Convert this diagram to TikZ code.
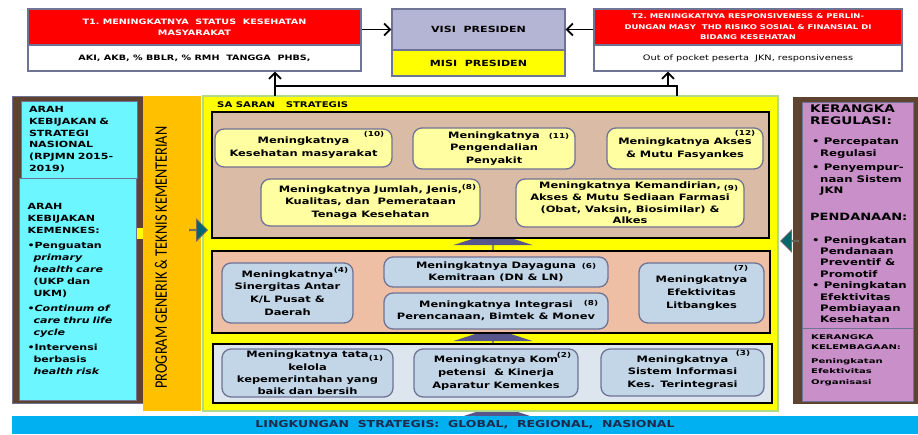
\documentclass[tikz,border=0pt]{standalone}
\usepackage{fontspec}
\setmainfont{DejaVu Sans}[FakeStretch=1.3]
\newfontfamily\widefont{DejaVu Sans}[FakeStretch=1.55]
\newfontfamily\progfont{Carlito}
\usetikzlibrary{arrows.meta,shapes.arrows}

\definecolor{redbox}{HTML}{FF0000}
\definecolor{visibg}{HTML}{B4B4D4}
\definecolor{edge}{HTML}{6F7394}
\definecolor{brownpan}{HTML}{5E4330}
\definecolor{cyanbox}{HTML}{6CF6FF}
\definecolor{orangecol}{HTML}{FFC000}
\definecolor{yelframe}{HTML}{FFFF00}
\definecolor{greenedge}{HTML}{B2D88A}
\definecolor{tanpan}{HTML}{D9BBA6}
\definecolor{salmonpan}{HTML}{EFBFA5}
\definecolor{paleyel}{HTML}{FFFFA2}
\definecolor{paleblue}{HTML}{C2D6E8}
\definecolor{greypan}{HTML}{DDE6EF}
\definecolor{barcyan}{HTML}{00B0F0}
\definecolor{purplepan}{HTML}{C98FC9}
\definecolor{slatearr}{HTML}{56568C}
\definecolor{tealarr}{HTML}{00686A}
\definecolor{navytxt}{HTML}{1C2B4D}

\begin{document}
\begin{tikzpicture}[
    x=1pt,y=-1pt,
    topbox/.style={
        draw=edge,
        line width=1.2pt,
        inner sep=0pt,
        align=center
    },
    panel/.style={
        draw=black,
        line width=2pt,
        inner sep=0pt
    },
    box/.style={
        draw=edge,
        line width=1.3pt,
        rounded corners=9pt,
        inner sep=0pt,
        align=center,
        font=\bfseries\fontsize{8.8}{12.8}\selectfont
    },
    ybox/.style={box,fill=paleyel},
    bbox/.style={box,fill=paleblue},
    num/.style={
        inner sep=0pt,
        font=\bfseries\fontsize{6.8}{8}\selectfont
    },
    sidebox/.style={
        fill=cyanbox,
        draw=edge,
        line width=1pt,
        inner xsep=8pt,
        text width=100pt,
        align=left,
        font=\bfseries\fontsize{8.5}{12}\selectfont
    },
    arrow/.style={-{Straight Barb[length=6pt,width=12pt]},line width=1.8pt},
    uparrow/.style={
        single arrow,
        fill=slatearr,
        inner sep=0pt,
        minimum width=80pt,
        minimum height=24pt,
        single arrow head extend=15pt,
        single arrow tip angle=144,
        rotate=90,
        anchor=tip
    },
    sidearrow/.style={
        single arrow,
        fill=tealarr,
        draw=brownpan!80,
        line width=0.8pt,
        inner sep=0pt,
        minimum width=22pt,
        minimum height=18pt,
        single arrow head extend=6pt,
        anchor=tip
    }
]
\useasboundingbox (0,0) rectangle (918,434);

%------------------------------------------------
% Goals and vision
%------------------------------------------------

\node[topbox,fill=redbox,minimum width=333pt,minimum height=36pt,text=white,
      font=\bfseries\fontsize{7.4}{11}\selectfont] (t1) at (194.5,27)
{T1.~MENINGKATNYA~~STATUS~~KESEHATAN\\MASYARAKAT};
\node[topbox,fill=white,minimum width=333pt,minimum height=26pt,
      font=\bfseries\fontsize{7.4}{9}\selectfont] (t1ind) at (194.5,58)
{AKI, AKB, \% BBLR, \% RMH~~TANGGA~~PHBS,};

\node[topbox,fill=visibg,minimum width=173pt,minimum height=41pt,
      font=\bfseries\fontsize{8.5}{10}\selectfont] (visi) at (478.5,29.5) {VISI~~PRESIDEN};
\node[topbox,fill=yelframe,minimum width=173pt,minimum height=26pt,
      font=\bfseries\fontsize{8.5}{10}\selectfont] (misi) at (478.5,63) {MISI~~PRESIDEN};

\node[topbox,fill=redbox,minimum width=308pt,minimum height=36pt,text=white,
      font=\bfseries\fontsize{6.5}{10.5}\selectfont] (t2) at (748,27)
{T2.~MENINGKATNYA RESPONSIVENESS \& PERLIN-\\DUNGAN MASY~~THD RISIKO SOSIAL \& FINANSIAL DI\\BIDANG KESEHATAN};
\node[topbox,fill=white,minimum width=308pt,minimum height=26pt,
      font=\fontsize{7.5}{9}\selectfont] (t2ind) at (748,58)
{Out of pocket peserta~~JKN, responsiveness};

\draw[arrow] (visi.west -| t1.east) -- (visi.west);
\draw[arrow] (visi.east -| t2.west) -- (visi.east);

%------------------------------------------------
% Frame
%------------------------------------------------

\node[uparrow] (upC) at (497,405) {};

\node[fill=yelframe,draw=greenedge,line width=1.2pt,inner sep=0pt,
      minimum width=575pt,minimum height=315pt] (sasaran) at (490.5,253.5) {};
\node[anchor=west,inner sep=0pt,font=\bfseries\fontsize{7.8}{9}\selectfont] (sstitle) at (217,105)
{SA SARAN~~~STRATEGIS};

\node[fill=barcyan,minimum width=906pt,minimum height=18pt,inner sep=0pt,text=navytxt,
      font=\bfseries\fontsize{9.6}{11}\selectfont] (lingkungan) at (465,425)
{LINGKUNGAN~~STRATEGIS:~~GLOBAL,~~REGIONAL,~~NASIONAL};

\coordinate (outL) at (275,96);
\coordinate (outR) at (677,96);
\coordinate (busR) at (668,86);
\draw[arrow] (outL) -- (outL |- t1ind.south);
\draw[line width=1.8pt] (outL |- busR) -- (outR |- busR) -- (outR);
\draw[arrow] (busR) -- (busR |- t2ind.south);

%------------------------------------------------
% Left side
%------------------------------------------------

\node[fill=brownpan,draw=edge,inner sep=0pt,minimum width=131pt,minimum height=307pt] (arahpan) at (77.5,249.5) {};
\node[sidebox,minimum height=77pt,font=\bfseries\fontsize{8.5}{11.7}\selectfont] (rpjmn) at (79,139.5)
{ARAH\\KEBIJAKAN~\&\\STRATEGI\\NASIONAL\\(RPJMN 2015-\\2019)};
\node[sidebox,minimum height=222pt,inner xsep=8.5pt] (kemenkes) at (77.5,289)
{ARAH\\KEBIJAKAN\\KEMENKES:\\[3pt]
\textbullet Penguatan\\\hspace*{6pt}\textit{primary}\\\hspace*{6pt}\textit{health care}\\\hspace*{6pt}(UKP dan\\\hspace*{6pt}UKM)\\[3pt]
\textbullet\textit{Continum of}\\\hspace*{6pt}\textit{care thru life}\\\hspace*{6pt}\textit{cycle}\\[3pt]
\textbullet Intervensi\\\hspace*{6pt}berbasis\\\hspace*{6pt}\textit{health risk}};
\node[fill=yelframe,inner sep=0pt,minimum width=6pt,minimum height=11pt] (link) at (140,233.5) {};

\node[fill=orangecol,inner sep=0pt,minimum width=58pt,minimum height=315pt] (program) at (172,253.5) {};
\node[rotate=90,inner sep=0pt] (progtxt) at (161,257.5)
{\resizebox{262pt}{12pt}{\progfont PROGRAM GENERIK \& TEKNIS KEMENTERIAN}};

%------------------------------------------------
% Right side
%------------------------------------------------

\node[fill=brownpan,inner sep=0pt,minimum width=127pt,minimum height=307pt] (kerangka) at (856.5,250.5) {};
\node[fill=purplepan,draw=edge,line width=0.8pt,inner sep=0pt,minimum width=111pt,minimum height=226pt] (regulasi) at (857.5,215) {};
\node[fill=purplepan,draw=edge,line width=0.8pt,inner sep=0pt,minimum width=111pt,minimum height=73pt] (lembaga) at (857.5,364.5) {};

\node[anchor=north west,inner sep=0pt,align=left,font=\bfseries\fontsize{10.5}{12}\selectfont] (reghead) at (810,105)
{KERANGKA\\REGULASI:};
\node[anchor=north west,inner sep=0pt,align=left,font=\bfseries\fontsize{9}{11.5}\selectfont] (reglist) at (812,138)
{\textbullet~Percepatan\\\hspace*{8pt}Regulasi\\[3pt]\textbullet~Penyempur-\\\hspace*{8pt}naan Sistem\\\hspace*{8pt}JKN};
\node[anchor=north west,inner sep=0pt,font=\bfseries\fontsize{10}{12}\selectfont] (danahead) at (810,213)
{PENDANAAN:};
\node[anchor=north west,inner sep=0pt,align=left,font=\bfseries\fontsize{9}{11.4}\selectfont] (danalist) at (812,236)
{\textbullet~Peningkatan\\\hspace*{8pt}Pendanaan\\\hspace*{8pt}Preventif \&\\\hspace*{8pt}Promotif\\\textbullet~Peningkatan\\\hspace*{8pt}Efektivitas\\\hspace*{8pt}Pembiayaan\\\hspace*{8pt}Kesehatan};
\node[anchor=north west,inner sep=0pt,align=left,font=\widefont\bfseries\fontsize{6.5}{10.5}\selectfont] (lembtxt) at (811,334)
{KERANGKA\\KELEMBAGAAN:\\[3pt]Peningkatan\\Efektivitas\\Organisasi};

%------------------------------------------------
% Strategic targets
%------------------------------------------------

\node[uparrow] (upA) at (493,232) {};
\node[uparrow] (upB) at (493,328) {};

\node[panel,fill=tanpan,minimum width=557pt,minimum height=126pt] (groupA) at (490.5,175) {};
\node[panel,fill=salmonpan,minimum width=558pt,minimum height=82pt] (groupB) at (491,292) {};
\node[panel,fill=greypan,line width=1.5pt,minimum width=559pt,minimum height=59pt] (groupC) at (492.5,373.5) {};

\node[ybox,minimum width=177pt,minimum height=38pt] (s10) at (303.5,148) {Meningkatnya\\Kesehatan masyarakat};
\node[num] (s10no) at (374,134) {(10)};
\node[ybox,minimum width=162pt,minimum height=41pt] (s11) at (494,148.5) {Meningkatnya\\Pengendalian\\Penyakit};
\node[num] (s11no) at (559,136) {(11)};
\node[ybox,minimum width=156pt,minimum height=41pt] (s12) at (685,148.5) {Meningkatnya Akses\\\& Mutu Fasyankes};
\node[num] (s12no) at (745,133) {(12)};
\node[ybox,minimum width=219pt,minimum height=47pt] (s8a) at (370.5,202.5)
{Meningkatnya Jumlah, Jenis,\\Kualitas, dan~~Pemerataan\\Tenaga Kesehatan};
\node[num] (s8ano) at (469,187) {(8)};
\node[ybox,minimum width=228pt,minimum height=48pt,font=\bfseries\fontsize{8.8}{11.6}\selectfont] (s9) at (630,203)
{Meningkatnya Kemandirian,\\Akses \& Mutu Sediaan Farmasi\\(Obat, Vaksin, Biosimilar) \&\\Alkes};
\node[num] (s9no) at (731,188) {(9)};

\node[bbox,minimum width=131pt,minimum height=60pt] (s4) at (287.5,293) {Meningkatnya\\Sinergitas Antar\\K/L Pusat \&\\Daerah};
\node[num] (s4no) at (341,270) {(4)};
\node[bbox,minimum width=224pt,minimum height=30pt,font=\bfseries\fontsize{8.8}{12}\selectfont] (s6) at (496,272) {Meningkatnya Dayaguna\\Kemitraan (DN \& LN)};
\node[num] (s6no) at (589,266) {(6)};
\node[bbox,minimum width=224pt,minimum height=36pt,font=\bfseries\fontsize{8.8}{12}\selectfont] (s8b) at (496,311) {Meningkatnya Integrasi\\Perencanaan, Bimtek \& Monev};
\node[num] (s8bno) at (591,303) {(8)};
\node[bbox,minimum width=125pt,minimum height=60pt] (s7) at (701.5,293) {Meningkatnya\\Efektivitas\\Litbangkes};
\node[num] (s7no) at (741,268) {(7)};

\node[bbox,minimum width=171pt,minimum height=48pt,font=\bfseries\fontsize{8.8}{12.2}\selectfont] (s1) at (307.5,373)
{Meningkatnya tata\\kelola\\kepemerintahan yang\\baik dan bersih};
\node[num] (s1no) at (376,358) {(1)};
\node[bbox,minimum width=164pt,minimum height=48pt] (s2) at (496,373) {Meningkatnya Kom\\petensi~~\& Kinerja\\Aparatur Kemenkes};
\node[num] (s2no) at (564,355) {(2)};
\node[bbox,minimum width=163pt,minimum height=47pt] (s3) at (682.5,372.5) {Meningkatnya\\Sistem Informasi\\Kes. Terintegrasi};
\node[num] (s3no) at (743,353) {(3)};

%------------------------------------------------
% Side arrows
%------------------------------------------------

\node[sidearrow] (progarr) at (208,230) {};
\node[sidearrow,rotate=180] (regarr) at (780,241) {};

\end{tikzpicture}
\end{document}
